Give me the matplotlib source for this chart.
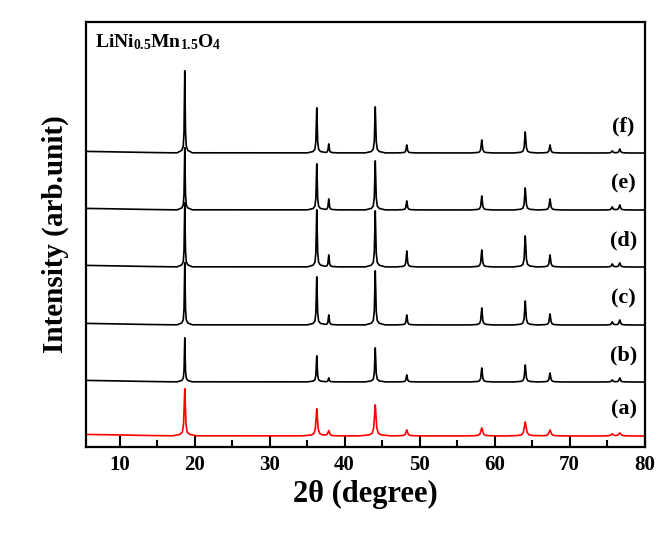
import numpy as np
import matplotlib
matplotlib.use("Agg")
import matplotlib.pyplot as plt

plt.rcParams['font.family'] = ['Liberation Serif', 'DejaVu Serif']
plt.rcParams['font.weight'] = 'bold'
plt.rcParams['mathtext.fontset'] = 'custom'
plt.rcParams['mathtext.rm'] = 'Liberation Serif:bold'
plt.rcParams['mathtext.bf'] = 'Liberation Serif:bold'
plt.rcParams['mathtext.it'] = 'Liberation Serif:bold'

# ---- data ----
peak_positions = [18.7, 36.3, 37.9, 44.1, 48.3, 58.3, 64.1, 67.4, 75.7, 76.7]
series_labels = ["(a)", "(b)", "(c)", "(d)", "(e)", "(f)"]
heights_a = [47, 27, 5, 31, 6, 8, 14, 6, 2, 3]
heights_b = [44, 26, 4, 34, 7, 14, 17, 9, 2, 4]
heights_c = [62, 48, 10, 54, 10, 17, 24, 11, 3, 5]
heights_d = [64, 57, 12, 56, 16, 17, 31, 12, 3, 4]
heights_e = [62, 46, 11, 49, 9, 14, 22, 11, 3, 5]
heights_f = [82, 45, 9, 46, 8, 13, 21, 8, 2, 4]
offsets = [0, 54, 111, 169, 226, 283]
background_x = [5.5, 8, 11, 14, 17, 80]
background_y = [1.6, 1.3, 0.9, 0.5, 0.2, 0.0]
colors = ["#ff0000", "black", "black", "black", "black", "black"]
width_factor = [1.6, 1.0, 1.0, 1.0, 1.0, 1.0]

# peak profile template (shape, relative units)
prof_dx = np.array([-1.0, -0.4, -0.2, -0.1, -0.04, 0.0, 0.04, 0.1, 0.2, 0.4, 1.0])
prof_h = np.array([0.0, 0.03, 0.08, 0.25, 0.7, 1.0, 0.7, 0.25, 0.08, 0.03, 0.0])

all_heights = [heights_a, heights_b, heights_c, heights_d, heights_e, heights_f]

fig = plt.figure(figsize=(6.69, 5.45), dpi=100)
ax = fig.add_axes([86/669, 1-447/545, (644.5-86)/669, (447-22)/545])

for i, hs in enumerate(all_heights):
    xs = list(background_x)
    for p in peak_positions:
        w = width_factor[i] * (1 + (p - 18) / 80.0)
        xs.extend(list(p + prof_dx * w))
    x = np.unique(np.array(xs))
    y = np.interp(x, background_x, background_y)
    for p, h in zip(peak_positions, hs):
        w = width_factor[i] * (1 + (p - 18) / 80.0)
        y = y + np.interp(x, p + prof_dx * w, h * prof_h, left=0, right=0)
    ax.plot(x, y + offsets[i], color=colors[i], lw=1.2)
    ax.text(77.2, offsets[i] + 27, series_labels[i], ha='center', va='center',
            fontsize=16, fontweight='bold')

ax.text(6.7, 394, r'$\mathregular{LiNi_{0.5}Mn_{1.5}O_4}$', ha='left', va='center',
        fontsize=14, fontweight='bold')

ax.set_xlim(5.53, 80)
ax.set_ylim(-11, 414)
ax.set_xticks([10, 20, 30, 40, 50, 60, 70, 80])
ax.set_xticks([15, 25, 35, 45, 55, 65, 75], minor=True)
ax.set_yticks([])
ax.tick_params(axis='x', which='major', direction='in', length=8, width=1.5,
               labelsize=15, pad=6, top=False)
ax.tick_params(axis='x', which='minor', direction='in', length=5, width=1.5, top=False)
for lab in ax.get_xticklabels():
    lab.set_fontweight('bold')
for s in ax.spines.values():
    s.set_linewidth(1.6)

ax.set_xlabel('2θ (degree)', fontsize=22, fontweight='bold', labelpad=3)
ax.set_ylabel('Intensity (arb.unit)', fontsize=21, fontweight='bold', labelpad=12)

fig.savefig('out.png', dpi=100)
